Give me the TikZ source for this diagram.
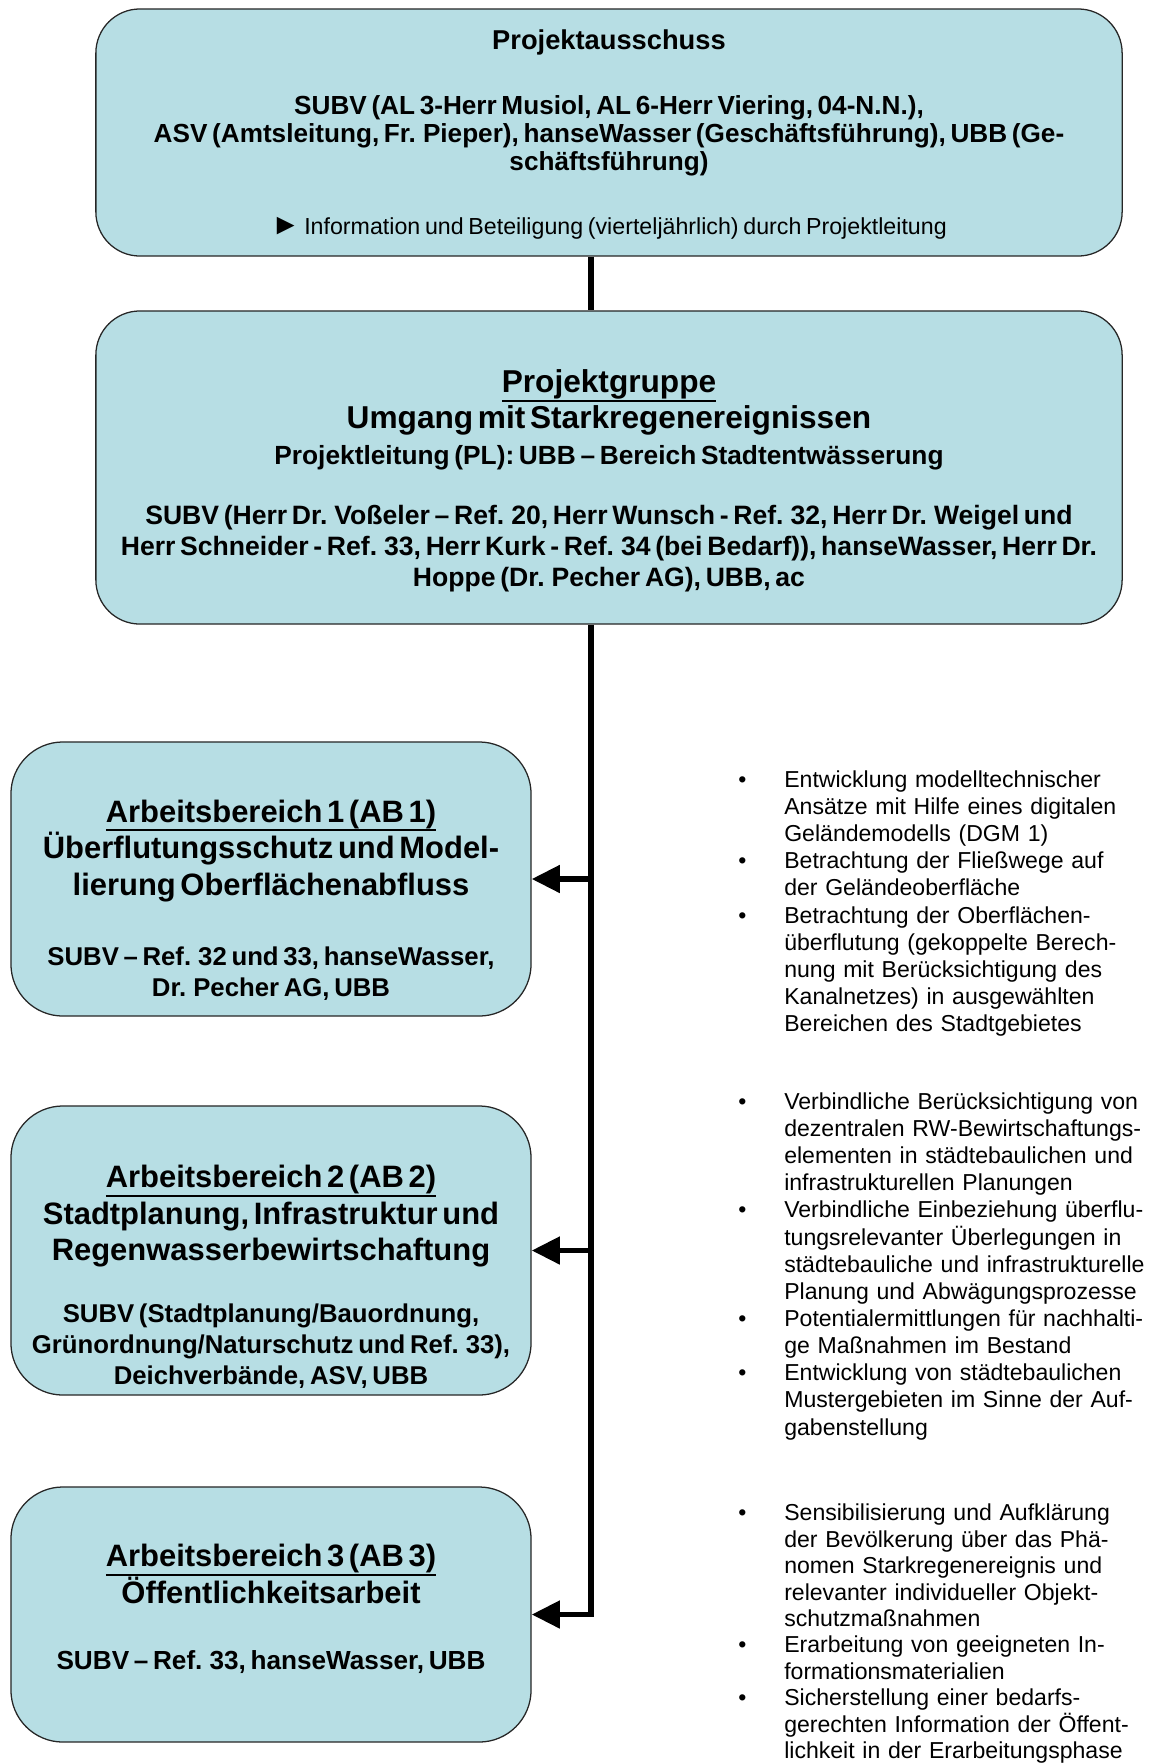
\documentclass[tikz,border=0pt]{standalone}
\usepackage{fontspec}
\setmainfont{Liberation Sans}
\usetikzlibrary{arrows.meta,positioning}
\definecolor{boxblue}{RGB}{183,222,228}
\newcommand{\ulhead}[1]{\setbox0\hbox{#1}\leavevmode\rlap{\rule[\dimexpr-\dp0-1.8pt\relax]{\wd0}{1.4pt}}\box0}
\newcommand{\bulletitem}[1]{\par\noindent\hangindent=1.15cm\hangafter=1\makebox[1.15cm][l]{•}#1}
\tikzset{%
	panel/.style    = {draw=black!85, line width=0.9pt, fill=boxblue, rectangle, inner sep=0pt},
	wide/.style     = {panel, rounded corners=1.1cm, minimum width=25.65cm},
	area/.style     = {panel, rounded corners=1.3cm, minimum width=13cm},
	boxtext/.style  = {align=center, text width=25.5cm, inner sep=0pt, font=\bfseries},
	areatext/.style = {align=center, text width=13cm, inner sep=0pt, font=\bfseries},
	listtext/.style = {align=left, text width=11cm, inner sep=0pt, anchor=north west, font=\fontsize{16.4}{19.3}\selectfont},
	link/.style     = {line width=4pt},
	arrow/.style    = {line width=4pt, -{Triangle[length=20pt,width=19pt]}},
}
\begin{document}
\begin{tikzpicture}[x=0.025cm,y=-0.025cm]
	\useasboundingbox (0,0) rectangle (1153,1764);
	\node[wide, minimum height=6.175cm] (pa) at (609,132.5) {};
	\node[wide, minimum height=7.825cm] (pg) at (609,467.5) {};
	\node[area, minimum height=6.85cm] (ab1) at (271,879) {};
	\node[area, minimum height=7.225cm] (ab2) at (271,1250.5) {};
	\node[area, minimum height=6.375cm] (ab3) at (271,1614.5) {};
	\node[boxtext] (pa-text) at (609,134.5) {%
		{\fontsize{19.4}{24}\selectfont Projektausschuss\par}
		\vspace{26pt}
		{\fontsize{18.6}{20}\selectfont SUBV (AL 3-Herr Musiol, AL 6-Herr Viering, 04-N.N.),\\
		ASV (Amtsleitung, Fr. Pieper), hanseWasser (Geschäftsführung), UBB (Ge-\\
		schäftsführung)\par}
		\vspace{26pt}
		{\fontsize{16.5}{19}\selectfont\mdseries {\fontsize{21}{19}\selectfont ►}\,Information und Beteiligung (vierteljährlich) durch Projektleitung\par}};
	\node[boxtext] (pg-text) at (609,481) {%
		{\fontsize{22.5}{25.5}\selectfont \ulhead{Projektgruppe}\\ Umgang mit Starkregenereignissen\par}
		{\fontsize{18.7}{25.5}\selectfont Projektleitung (PL): UBB – Bereich Stadtentwässerung\par}
		\vspace{21pt}
		{\fontsize{18.9}{22}\selectfont SUBV (Herr Dr. Voßeler – Ref. 20, Herr Wunsch - Ref. 32, Herr Dr. Weigel und\\
		Herr Schneider - Ref. 33, Herr Kurk - Ref. 34 (bei Bedarf)), hanseWasser, Herr Dr.\\
		Hoppe (Dr. Pecher AG), UBB, ac\par}};
	\node[areatext] (ab1-text) at (271,900) {%
		{\fontsize{22}{26}\selectfont \ulhead{Arbeitsbereich 1 (AB 1)}\\ Überflutungsschutz und Model-\\ lierung Oberflächenabfluss\par}
		\vspace{28pt}
		{\fontsize{18.3}{22}\selectfont SUBV – Ref. 32 und 33, hanseWasser,\\ Dr. Pecher AG, UBB\par}};
	\node[areatext] (ab2-text) at (271,1277) {%
		{\fontsize{22}{26}\selectfont \ulhead{Arbeitsbereich 2 (AB 2)}\\ Stadtplanung, Infrastruktur und\\ Regenwasserbewirtschaftung\par}
		\vspace{22pt}
		{\fontsize{18.3}{22}\selectfont SUBV (Stadtplanung/Bauordnung,\\ Grünordnung/Naturschutz und Ref. 33),\\ Deichverbände, ASV, UBB\par}};
	\node[areatext] (ab3-text) at (271,1609) {%
		{\fontsize{22}{24}\selectfont \ulhead{Arbeitsbereich 3 (AB 3)}\\ Öffentlichkeitsarbeit\par}
		\vspace{25pt}
		{\fontsize{18.6}{22}\selectfont SUBV – Ref. 33, hanseWasser, UBB\par}};
	\node[listtext] (ab1-tasks) at (738,760) {%
		\bulletitem{Entwicklung modelltechnischer\newline Ansätze mit Hilfe eines digitalen\newline Geländemodells (DGM 1)}
		\bulletitem{Betrachtung der Fließwege auf\newline der Geländeoberfläche}
		\bulletitem{Betrachtung der Oberflächen-\newline überflutung (gekoppelte Berech-\newline nung mit Berücksichtigung des\newline Kanalnetzes) in ausgewählten\newline Bereichen des Stadtgebietes}\par};
	\node[listtext] (ab2-tasks) at (738,1082) {%
		\bulletitem{Verbindliche Berücksichtigung von\newline dezentralen RW-Bewirtschaftungs-\newline elementen in städtebaulichen und\newline infrastrukturellen Planungen}
		\bulletitem{Verbindliche Einbeziehung überflu-\newline tungsrelevanter Überlegungen in\newline städtebauliche und infrastrukturelle\newline Planung und Abwägungsprozesse}
		\bulletitem{Potentialermittlungen für nachhalti-\newline ge Maßnahmen im Bestand}
		\bulletitem{Entwicklung von städtebaulichen\newline Mustergebieten im Sinne der Auf-\newline gabenstellung}\par};
	\node[listtext, font=\fontsize{16.4}{18.8}\selectfont] (ab3-tasks) at (738,1494) {%
		\bulletitem{Sensibilisierung und Aufklärung\newline der Bevölkerung über das Phä-\newline nomen Starkregenereignis und\newline relevanter individueller Objekt-\newline schutzmaßnahmen}
		\bulletitem{Erarbeitung von geeigneten In-\newline formationsmaterialien}
		\bulletitem{Sicherstellung einer bedarfs-\newline gerechten Information der Öffent-\newline lichkeit in der Erarbeitungsphase}\par};
	\coordinate (spine) at (591,1614.5);
	\draw[link] (pa.south -| spine) -- (pg.north -| spine);
	\draw[arrow] (pg.south -| spine) -- (spine) -- (ab3.east);
	\draw[arrow] (ab1.east -| spine) -- (ab1.east);
	\draw[arrow] (ab2.east -| spine) -- (ab2.east);
\end{tikzpicture}
\end{document}
